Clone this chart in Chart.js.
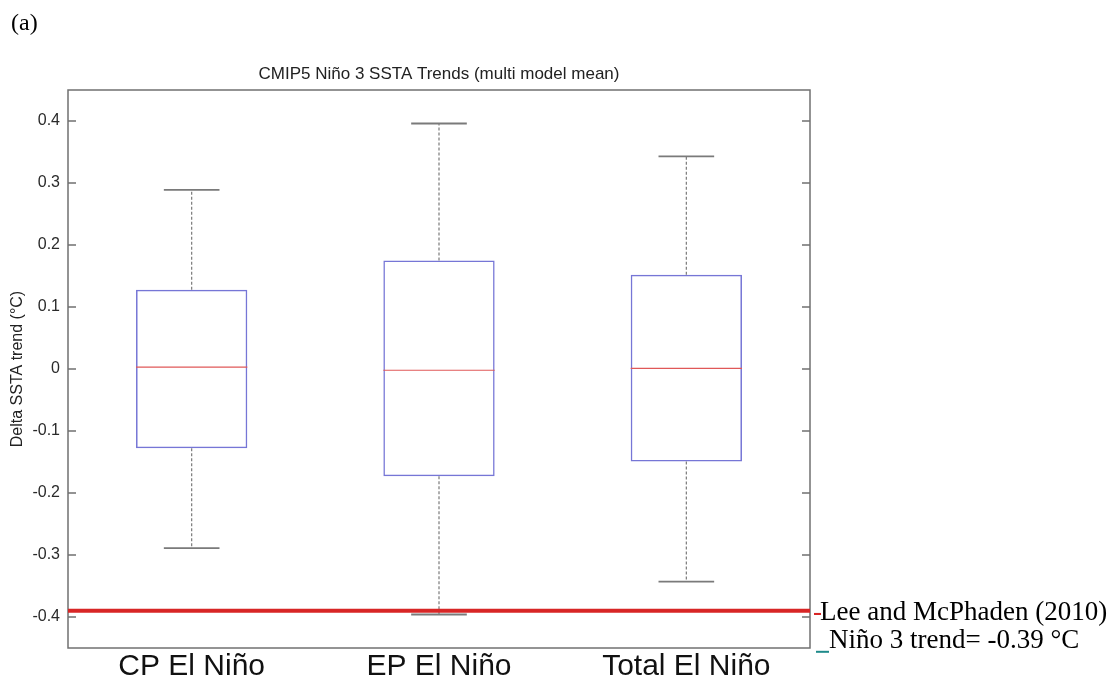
<!DOCTYPE html>
<html>
<head>
<meta charset="utf-8">
<script src="https://cdn.jsdelivr.net/npm/chart.js@4.4.1/dist/chart.umd.min.js"></script>
<style>
  body { margin: 0; background: #fff; }
  #wrap { width: 1117px; height: 687px; }
</style>
</head>
<body>
<div id="wrap"><canvas id="boxChart" width="1117" height="687"></canvas></div>
<script>
// Box plot statistics
const categories = ['CP El Niño', 'EP El Niño', 'Total El Niño'];
const whiskerLow = [-0.289, -0.396, -0.343];
const q1 = [-0.128, -0.173, -0.149];
const median = [0.003, -0.002, 0.001];
const q3 = [0.128, 0.175, 0.152];
const whiskerHigh = [0.289, 0.396, 0.343];
const yTicks = [-0.4, -0.3, -0.2, -0.1, 0, 0.1, 0.2, 0.3, 0.4];
const referenceTrend = -0.39;

const colors = {
    frame: '#707070',
    box: '#7676d6',
    median: '#e05858',
    whisker: '#7a7a7a',
    reference: '#d82626',
    teal: '#1f8a8a'
};

// whiskers, medians, frame, inner ticks, reference line and texts
const boxPlotExtras = {
    id: 'boxPlotExtras',
    afterDatasetsDraw(chart) {
        const { ctx, chartArea: a, scales: { x, y } } = chart;
        const bars = chart.getDatasetMeta(0).data;
        ctx.save();
        categories.forEach((c, i) => {
            const cx = x.getPixelForValue(i);
            const half = bars[i].width / 2;
            const capHalf = half / 2;
            // dashed whiskers
            ctx.strokeStyle = colors.whisker;
            ctx.lineWidth = 1.2;
            ctx.setLineDash([3, 2]);
            ctx.beginPath();
            ctx.moveTo(cx, y.getPixelForValue(q3[i]));
            ctx.lineTo(cx, y.getPixelForValue(whiskerHigh[i]));
            ctx.moveTo(cx, y.getPixelForValue(q1[i]));
            ctx.lineTo(cx, y.getPixelForValue(whiskerLow[i]));
            ctx.stroke();
            // caps
            ctx.setLineDash([]);
            ctx.lineWidth = 1.8;
            ctx.beginPath();
            [whiskerHigh[i], whiskerLow[i]].forEach(v => {
                const py = y.getPixelForValue(v);
                ctx.moveTo(cx - capHalf, py);
                ctx.lineTo(cx + capHalf, py);
            });
            ctx.stroke();
            // median
            ctx.strokeStyle = colors.median;
            ctx.lineWidth = 1.2;
            ctx.beginPath();
            const my = y.getPixelForValue(median[i]);
            ctx.moveTo(cx - half, my);
            ctx.lineTo(cx + half, my);
            ctx.stroke();
        });

        // frame with inward ticks on both sides
        ctx.strokeStyle = colors.frame;
        ctx.lineWidth = 1.5;
        ctx.strokeRect(a.left, a.top, a.width, a.height);
        ctx.beginPath();
        yTicks.forEach(v => {
            const py = y.getPixelForValue(v);
            ctx.moveTo(a.left, py);
            ctx.lineTo(a.left + 8, py);
            ctx.moveTo(a.right, py);
            ctx.lineTo(a.right - 8, py);
        });
        ctx.stroke();

        // reference trend line
        ctx.strokeStyle = colors.reference;
        ctx.lineWidth = 4;
        ctx.beginPath();
        const ry = y.getPixelForValue(referenceTrend);
        ctx.moveTo(a.left, ry);
        ctx.lineTo(a.right, ry);
        ctx.stroke();

        // title
        ctx.fillStyle = '#222';
        ctx.font = '17px "Liberation Sans", Arial, sans-serif';
        ctx.textAlign = 'center';
        ctx.textBaseline = 'alphabetic';
        ctx.fillText('CMIP5 Niño 3 SSTA Trends (multi model mean)', (a.left + a.right) / 2, 79);

        // panel letter
        ctx.fillStyle = '#000';
        ctx.textAlign = 'left';
        ctx.font = '24px "Liberation Serif", "Times New Roman", serif';
        ctx.fillText('(a)', 11, 30);

        // annotation beside the reference line
        ctx.font = '27px "Liberation Serif", "Times New Roman", serif';
        ctx.fillStyle = colors.reference;
        ctx.fillText('-', a.right + 3, ry + 9);
        ctx.fillStyle = '#000';
        ctx.fillText('Lee and McPhaden (2010)', a.right + 10, ry + 9);
        ctx.fillStyle = colors.teal;
        ctx.fillRect(a.right + 6, ry + 40, 13, 2);
        ctx.fillStyle = '#000';
        ctx.fillText('Niño 3 trend= -0.39 °C', a.right + 19, ry + 37);
        ctx.restore();
    }
};

new Chart(document.getElementById('boxChart'), {
    type: 'bar',
    data: {
        labels: categories,
        datasets: [{
            label: 'IQR',
            data: q1.map((v, i) => [v, q3[i]]),
            backgroundColor: 'rgba(0,0,0,0)',
            borderColor: colors.box,
            borderWidth: 1.5,
            borderSkipped: false,
            barPercentage: 0.45,
            categoryPercentage: 1
        }]
    },
    options: {
        responsive: false,
        animation: false,
        layout: { padding: { left: 0, top: 90, right: 307, bottom: 0 } },
        plugins: {
            legend: { display: false },
            tooltip: { enabled: false }
        },
        scales: {
            x: {
                grid: { display: false, drawTicks: false },
                border: { display: false },
                ticks: {
                    color: '#111',
                    padding: 1,
                    font: { family: '"Liberation Sans", Arial, sans-serif', size: 30 }
                },
                afterFit: scale => { scale.height = 39; }
            },
            y: {
                min: -0.45,
                max: 0.45,
                grid: { display: false, drawTicks: false },
                border: { display: false },
                afterBuildTicks: scale => { scale.ticks = yTicks.map(v => ({ value: v })); },
                ticks: {
                    color: '#2a2a2a',
                    padding: 8,
                    font: { family: '"Liberation Sans", Arial, sans-serif', size: 16 },
                    callback: value => String(+value.toFixed(1))
                },
                title: {
                    display: true,
                    text: 'Delta SSTA trend (°C)',
                    color: '#222',
                    padding: { top: 8, bottom: 0 },
                    font: { family: '"Liberation Sans", Arial, sans-serif', size: 16 }
                },
                afterFit: scale => { scale.width = 68; }
            }
        }
    },
    plugins: [boxPlotExtras]
});
</script>
</body>
</html>
